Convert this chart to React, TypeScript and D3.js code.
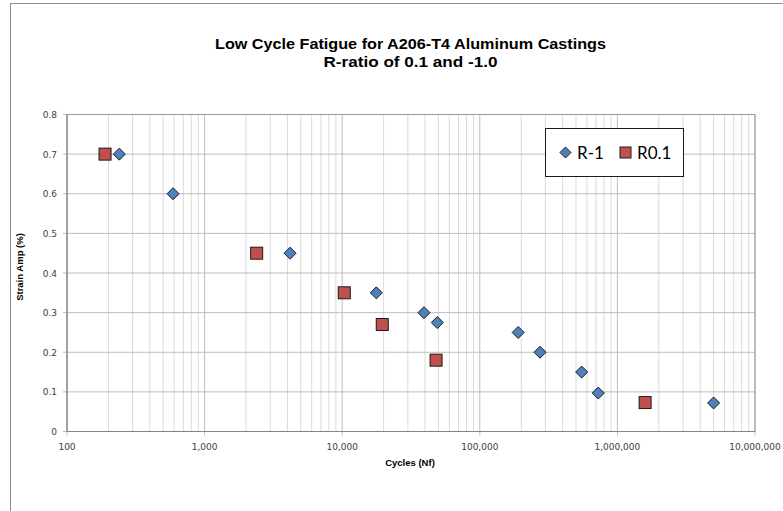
import React from "react";
import * as d3 from "d3";

// R = -1 series (diamonds)
const r1Cycles = [240, 590, 4180, 17700, 39300, 49100, 190000, 274000, 550000, 726000, 5000000];
const r1Strain = [0.7, 0.6, 0.45, 0.35, 0.3, 0.275, 0.25, 0.2, 0.15, 0.097, 0.072];

// R = 0.1 series (squares)
const r01Cycles = [189, 2390, 10350, 19550, 48100, 1590000];
const r01Strain = [0.7, 0.45, 0.35, 0.27, 0.18, 0.073];

const xTicks = [100, 1000, 10000, 100000, 1000000, 10000000];
const yTicks = [0, 0.1, 0.2, 0.3, 0.4, 0.5, 0.6, 0.7, 0.8];

const titleLines = ["Low Cycle Fatigue for A206-T4  Aluminum Castings", "R-ratio of 0.1 and -1.0"];
const titleWidths = [391, 174];

const W = 783;
const H = 511;
const plot = { left: 67, right: 755, top: 114.5, bottom: 431.5 };

function App() {
  const x = d3.scaleLog().domain([100, 10000000]).range([plot.left, plot.right]);
  const y = d3.scaleLinear().domain([0, 0.8]).range([plot.bottom, plot.top]);

  const minorX: number[] = [];
  for (let e = 2; e < 7; e++) {
    for (let m = 2; m <= 9; m++) minorX.push(m * Math.pow(10, e));
  }
  const fmt = d3.format(",");
  const s = 6;

  return (
    <svg
      width={W}
      height={H}
      style={{ position: "absolute", left: 0, top: 0, background: "#fff" }}
    >
      <rect x={10.5} y={3.5} width={800} height={600} fill="#fff" stroke="#8c8c8c" strokeWidth={1} />

      {titleLines.map((t, i) => (
        <text
          key={t}
          x={410.5}
          y={49 + i * 18}
          textAnchor="middle"
          textLength={titleWidths[i]}
          lengthAdjust="spacingAndGlyphs"
          fontFamily="Liberation Sans, Arial, sans-serif"
          fontWeight="bold"
          fontSize={15.5}
          fill="#000"
        >
          {t}
        </text>
      ))}

      {/* minor x grid */}
      {minorX.map((v) => (
        <line key={"m" + v} x1={x(v)} x2={x(v)} y1={plot.top} y2={plot.bottom} stroke="#dadada" strokeWidth={1} />
      ))}
      {/* major x grid */}
      {xTicks.map((v) => (
        <line key={"M" + v} x1={x(v)} x2={x(v)} y1={plot.top} y2={plot.bottom + 4} stroke="#bdbdbd" strokeWidth={1} />
      ))}
      {/* y grid */}
      {yTicks.map((v) => (
        <line key={"y" + v} x1={plot.left - 4} x2={plot.right} y1={y(v)} y2={y(v)} stroke="#bdbdbd" strokeWidth={1} />
      ))}
      <rect
        x={plot.left}
        y={plot.top}
        width={plot.right - plot.left}
        height={plot.bottom - plot.top}
        fill="none"
        stroke="#9a9a9a"
        strokeWidth={1}
      />
      <line x1={plot.left} x2={plot.right} y1={plot.bottom} y2={plot.bottom} stroke="#868686" />
      <line x1={plot.left} x2={plot.left} y1={plot.top} y2={plot.bottom} stroke="#868686" />

      {yTicks.map((v) => (
        <text
          key={"yt" + v}
          x={plot.left - 10}
          y={y(v) + 3.5}
          textAnchor="end"
          fontFamily="DejaVu Sans, Verdana, sans-serif"
          fontSize={9}
          fill="#404040"
        >
          {v === 0 ? "0" : v.toFixed(1)}
        </text>
      ))}
      {xTicks.map((v) => (
        <text
          key={"xt" + v}
          x={x(v)}
          y={plot.bottom + 18}
          textAnchor="middle"
          fontFamily="DejaVu Sans, Verdana, sans-serif"
          fontSize={9}
          fill="#404040"
        >
          {fmt(v)}
        </text>
      ))}

      <text
        x={410}
        y={466}
        textAnchor="middle"
        fontFamily="Liberation Sans, Arial, sans-serif"
        fontWeight="bold"
        fontSize={9.5}
        fill="#000"
      >
        Cycles (Nf)
      </text>
      <text
        transform={`translate(23,${(plot.top + plot.bottom) / 2 - 6}) rotate(-90)`}
        textAnchor="middle"
        fontFamily="Liberation Sans, Arial, sans-serif"
        fontWeight="bold"
        fontSize={9.5}
        fill="#000"
      >
        Strain Amp (%)
      </text>

      {r1Cycles.map((c, i) => (
        <path
          key={"d" + i}
          d={`M${x(c)},${y(r1Strain[i]) - s}L${x(c) + s},${y(r1Strain[i])}L${x(c)},${y(r1Strain[i]) + s}L${x(c) - s},${y(r1Strain[i])}Z`}
          fill="#4f81bd"
          stroke="#1a1a1a"
          strokeWidth={1}
        />
      ))}
      {r01Cycles.map((c, i) => (
        <rect
          key={"s" + i}
          x={x(c) - s}
          y={y(r01Strain[i]) - s}
          width={2 * s}
          height={2 * s}
          fill="#c0504d"
          stroke="#1a1a1a"
          strokeWidth={1}
        />
      ))}

      {/* legend */}
      <rect x={545.5} y={128.5} width={138} height={48} fill="#fff" stroke="#1a1a1a" strokeWidth={1} />
      <path d="M565.5,147L571,152.5L565.5,158L560,152.5Z" fill="#4f81bd" stroke="#1a1a1a" />
      <text x={577} y={159} fontFamily="Lato, Noto Sans, sans-serif" fontSize={17} fill="#000">
        R-1
      </text>
      <rect x={620} y={147} width={11} height={11} fill="#c0504d" stroke="#1a1a1a" />
      <text x={637} y={159} fontFamily="Lato, Noto Sans, sans-serif" fontSize={17} fill="#000">
        R0.1
      </text>
    </svg>
  );
}

export default App;
